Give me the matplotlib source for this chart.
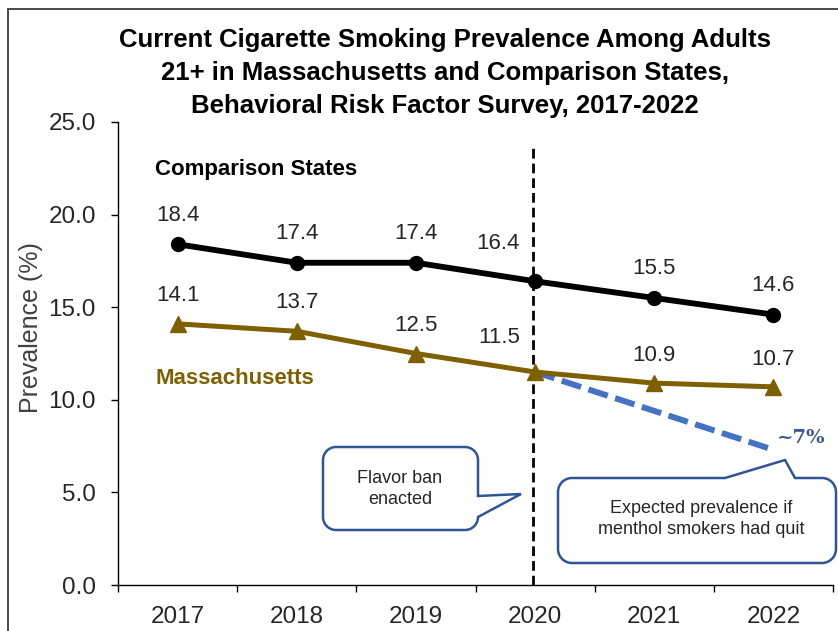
import matplotlib
matplotlib.use("Agg")
import matplotlib.pyplot as plt
from matplotlib.path import Path
from matplotlib.patches import PathPatch, Rectangle
import numpy as np

years = ["2017", "2018", "2019", "2020", "2021", "2022"]
comparison = [18.4, 17.4, 17.4, 16.4, 15.5, 14.6]
massachusetts = [14.1, 13.7, 12.5, 11.5, 10.9, 10.7]
expected_years = ["2020", "2022"]
expected_y = [11.5, 7.3]
yticks = [0, 5, 10, 15, 20, 25]

W, H = 838, 631
fig = plt.figure(figsize=(W / 100, H / 100), dpi=100)
ax = fig.add_axes([118 / W, 1 - 585 / H, (833 - 118) / W, (585 - 122) / H])

x = np.arange(len(years))
ex = [years.index(y) for y in expected_years]
black = "#000000"
olive = "#7f6000"
blue = "#4472c4"
callout = "#2f5597"
tickc = "#262626"
FONT = "Liberation Sans"

ax.plot(x, comparison, color=black, lw=4.2, marker="o", ms=10, zorder=5)
ax.plot(x, massachusetts, color=olive, lw=3.6, marker="^", ms=11, zorder=5)
ax.plot(ex, expected_y, color=blue, lw=4.3, ls=(0, (3.4, 1.3)), zorder=4)
ax.axvline(2.985, ymin=0, ymax=(585 - 145) / (585 - 122), color=black, lw=2, ls=(0, (3.5, 1.8)), zorder=3)

# label offsets in points (dx, dy above point baseline)
comp_off = [(0, 17), (0, 17), (0, 17), (-27, 23), (0, 17), (0, 17)]
ma_off = [(0, 16.5), (0, 16.5), (0, 16.5), (-26, 21), (0, 16), (0, 16)]
for i, v in enumerate(comparison):
    ax.annotate(f"{v:.1f}", (x[i], v), xytext=comp_off[i], textcoords="offset points",
                ha="center", va="baseline", fontsize=16, color="#262626", family=FONT)
for i, v in enumerate(massachusetts):
    ax.annotate(f"{v:.1f}", (x[i], v), xytext=ma_off[i], textcoords="offset points",
                ha="center", va="baseline", fontsize=16, color="#262626", family=FONT)

ax.set_xlim(-0.5, 5.5)
ax.set_ylim(0, 25)
ax.set_yticks(yticks)
ax.set_yticklabels([f"{t:.1f}" for t in yticks], family=FONT, fontsize=17.5, color=tickc)
ax.set_xticks(x)
ax.set_xticklabels(years, family=FONT, fontsize=17.5, color=tickc)
ax.set_xticks(np.arange(-0.5, 6, 1), minor=True)
ax.tick_params(axis="x", which="major", length=0, pad=15)
ax.tick_params(axis="x", which="minor", length=5, width=1, color="#000000", direction="out")
ax.tick_params(axis="y", length=5, width=1, color="#000000", direction="out", pad=11)
for s in ["top", "right"]:
    ax.spines[s].set_visible(False)
ax.spines["left"].set_linewidth(1)
ax.spines["bottom"].set_linewidth(1)
ax.set_ylabel("Prevalence (%)", family=FONT, fontsize=18, color="#404040")
ax.yaxis.set_label_coords(-0.105, 0.557)

# Title
fig.text(445 / W, 1 - 73 / H, "Current Cigarette Smoking Prevalence Among Adults\n21+ in Massachusetts and Comparison States,\nBehavioral Risk Factor Survey, 2017-2022",
         ha="center", va="center", fontsize=18.5, fontweight="bold", family=FONT,
         linespacing=1.45, color="#000000")

# series labels
fig.text(155 / W, 1 - 170 / H, "Comparison States", ha="left", va="center", fontsize=16,
         fontweight="bold", family=FONT, color="#000000")
fig.text(155 / W, 1 - 378 / H, "Massachusetts", ha="left", va="center", fontsize=16,
         fontweight="bold", family=FONT, color=olive)

fig.text(801 / W, 1 - 438 / H, "~7%", ha="center", va="center", fontsize=14, fontweight="bold",
         family="DejaVu Serif", color="#3b5b8f")

# figure border
def pix(px, py):
    return (px / W, 1 - py / H)

fig.patches.append(Rectangle(pix(8, 640), (W + 20) / W, (640 - 9) / H, transform=fig.transFigure,
                             fill=False, edgecolor="#3a3a3a", lw=1.3, figure=fig))

def callout_path(x0, y0, x1, y1, r, pointer, side):
    k = 0.5523 * r
    verts, codes = [], []
    def mv(p):
        verts.append(p); codes.append(Path.MOVETO)
    def ln(p):
        verts.append(p); codes.append(Path.LINETO)
    def cv(c1, c2, p):
        verts.extend([c1, c2, p]); codes.extend([Path.CURVE4] * 3)
    mv((x0 + r, y0))
    if side == "top":
        for p in pointer:
            ln(p)
    ln((x1 - r, y0))
    cv((x1 - r + k, y0), (x1, y0 + r - k), (x1, y0 + r))
    if side == "right":
        for p in pointer:
            ln(p)
    ln((x1, y1 - r))
    cv((x1, y1 - r + k), (x1 - r + k, y1), (x1 - r, y1))
    ln((x0 + r, y1))
    cv((x0 + r - k, y1), (x0, y1 - r + k), (x0, y1 - r))
    ln((x0, y0 + r))
    cv((x0, y0 + r - k), (x0 + r - k, y0), (x0 + r, y0))
    verts.append((x0 + r, y0)); codes.append(Path.CLOSEPOLY)
    verts = [pix(a, b) for a, b in verts]
    return Path(verts, codes)

p1 = callout_path(323, 447, 478, 530, 13, [(478, 496), (521, 494), (478, 517)], "right")
fig.patches.append(PathPatch(p1, transform=fig.transFigure, facecolor="white", edgecolor=callout,
                             lw=1.8, figure=fig, zorder=10))
p2 = callout_path(558, 478, 836, 563, 14, [(725, 478), (785, 460), (795, 478)], "top")
fig.patches.append(PathPatch(p2, transform=fig.transFigure, facecolor="white", edgecolor=callout,
                             lw=1.8, figure=fig, zorder=10))

fig.text(400 / W, 1 - 489 / H, "Flavor ban\nenacted", ha="center", va="center", fontsize=13,
         family=FONT, color="#262626", linespacing=1.25, zorder=11)
fig.text(701 / W, 1 - 519 / H, "Expected prevalence if\nmenthol smokers had quit", ha="center",
         va="center", fontsize=13, family=FONT, color="#262626", linespacing=1.25, zorder=11)

fig.savefig("out.png", dpi=100)
